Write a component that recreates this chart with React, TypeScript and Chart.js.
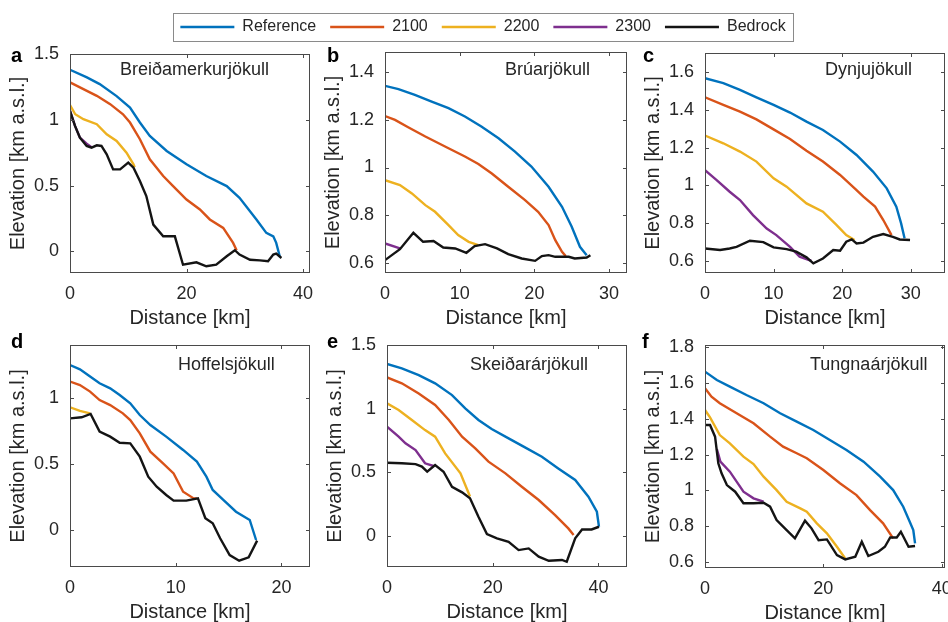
import React, { useEffect, useRef } from "react";
import { Chart, registerables } from "chart.js";

Chart.register(...registerables);

type Pt = [number, number];

const FONT = "'Liberation Sans', Arial, Helvetica, sans-serif";
const TEXT = "#262626";

// ---------- legend ----------
const SERIES_NAMES = ["Reference", "2100", "2200", "2300", "Bedrock"];
const SERIES_COLORS = ["#0072BD", "#D95319", "#EDB120", "#7E2F8E", "#141414"];

// ---------- a: Breiðamerkurjökull (distance km, elevation km a.s.l.) ----------
const breidRef: Pt[] = [[0, 1.38], [2.9, 1.322], [5.1, 1.271], [8, 1.18], [10.3, 1.093], [12, 0.979], [13.7, 0.877], [16.6, 0.763], [20, 0.661], [23.4, 0.572], [26.9, 0.496], [29.1, 0.407], [32, 0.242], [33.7, 0.14], [34.9, 0.114], [35.4, 0.064], [36, -0.038]];
const breid2100: Pt[] = [[0, 1.284], [2.9, 1.22], [4.6, 1.182], [6.9, 1.119], [9.1, 1.042], [10.3, 0.979], [12, 0.852], [13.7, 0.699], [16, 0.572], [17.7, 0.496], [20, 0.394], [22.3, 0.318], [24, 0.242], [26.3, 0.178], [28, 0.064], [28.6, 0.008]];
const breid2200: Pt[] = [[0, 1.111], [0.9, 1.042], [2.3, 1.004], [4.6, 0.966], [6.3, 0.89], [8, 0.839], [9.7, 0.75], [10.9, 0.661], [11.1, 0.64]];
const breid2300: Pt[] = [[0, 1.068], [0.86, 0.953], [1.7, 0.864], [2.86, 0.818], [3.7, 0.792]];
const breidBed: Pt[] = [[0, 1.068], [0.86, 0.953], [1.7, 0.864], [2.86, 0.801], [3.7, 0.788], [4.6, 0.806], [5.4, 0.801], [6.3, 0.737], [7.4, 0.623], [8.6, 0.623], [10, 0.674], [10.9, 0.636], [12, 0.534], [13.1, 0.42], [14.3, 0.203], [16, 0.114], [18, 0.114], [19.4, -0.102], [21.7, -0.084], [23.4, -0.114], [25.1, -0.102], [26.9, -0.038], [28.3, 0.008], [29.1, -0.025], [30.9, -0.064], [32.6, -0.069], [34, -0.076], [34.9, -0.025], [35.4, -0.018], [36.3, -0.051]];
const breidXTicks = [0, 20, 40];
const breidYTicks = [0, 0.5, 1, 1.5];

// ---------- b: Brúarjökull ----------
const bruRef: Pt[] = [[0, 1.343], [1.8, 1.329], [4, 1.305], [6.25, 1.277], [8.5, 1.249], [10.7, 1.214], [12.9, 1.172], [15.2, 1.123], [17.4, 1.067], [19.6, 1.004], [21.9, 0.919], [23.7, 0.835], [25, 0.751], [26.1, 0.667], [27, 0.632]];
const bru2100: Pt[] = [[0, 1.216], [1.34, 1.2], [3.1, 1.169], [5.4, 1.13], [8.5, 1.081], [10.7, 1.046], [12.5, 1.015], [14.3, 0.975], [16.5, 0.919], [18.75, 0.863], [20.5, 0.814], [21.9, 0.758], [22.8, 0.695], [23.7, 0.646], [24.2, 0.628]];
const bru2200: Pt[] = [[0, 0.947], [2, 0.926], [3.6, 0.891], [5.4, 0.842], [6.7, 0.814], [8.5, 0.758], [9.8, 0.716], [11.2, 0.688], [12.5, 0.674]];
const bru2300: Pt[] = [[0, 0.681], [2, 0.66]];
const bruBed: Pt[] = [[0, 0.611], [2, 0.657], [3.8, 0.726], [5.1, 0.688], [6.5, 0.691], [7.8, 0.664], [9.4, 0.66], [10.9, 0.642], [12, 0.67], [13.4, 0.678], [15, 0.66], [16.5, 0.636], [18.3, 0.618], [20.1, 0.608], [21, 0.628], [21.9, 0.632], [22.8, 0.625], [24.6, 0.625], [25.4, 0.618], [27, 0.622], [27.5, 0.632]];
const bruXTicks = [0, 10, 20, 30];
const bruYTicks = [0.6, 0.8, 1, 1.2, 1.4];

// ---------- c: Dynjujökull ----------
const dynRef: Pt[] = [[0, 1.568], [2.67, 1.542], [5.1, 1.506], [7.5, 1.467], [10, 1.427], [12.4, 1.386], [14.8, 1.338], [17.2, 1.294], [19.7, 1.232], [22.1, 1.161], [24.5, 1.073], [26.5, 0.984], [27.9, 0.887], [28.6, 0.798], [29.1, 0.719]];
const dyn2100: Pt[] = [[0, 1.467], [2.67, 1.427], [5.1, 1.391], [7.5, 1.35], [10, 1.297], [12.4, 1.246], [14.8, 1.184], [17.2, 1.126], [19.7, 1.055], [22.1, 0.975], [23.1, 0.94], [24.8, 0.887], [26, 0.816], [27.2, 0.736]];
const dyn2200: Pt[] = [[0, 1.264], [2.67, 1.223], [5.1, 1.179], [7.5, 1.126], [10, 1.037], [11.9, 0.993], [14.8, 0.904], [17.2, 0.86], [19.2, 0.789], [20.6, 0.736], [21.8, 0.71]];
const dyn2300: Pt[] = [[0, 1.081], [1.7, 1.028], [3.6, 0.966], [5.1, 0.922], [7, 0.842], [9, 0.771], [10.4, 0.736], [12.4, 0.674], [13.8, 0.621], [15.5, 0.6]];
const dynBed: Pt[] = [[0, 0.665], [2.2, 0.657], [3.6, 0.665], [4.6, 0.674], [6.55, 0.706], [8.5, 0.699], [10, 0.671], [11.9, 0.662], [13.3, 0.648], [14.8, 0.618], [15.8, 0.586], [17.2, 0.612], [18.7, 0.657], [19.7, 0.653], [20.6, 0.701], [21.4, 0.713], [22.1, 0.692], [23.1, 0.696], [24.5, 0.727], [26, 0.742], [27.4, 0.727], [28.4, 0.713], [29.9, 0.71]];
const dynXTicks = [0, 10, 20, 30];
const dynYTicks = [0.6, 0.8, 1, 1.2, 1.4, 1.6];

// ---------- d: Hoffelsjökull ----------
const hofRef: Pt[] = [[0, 1.253], [0.94, 1.22], [1.9, 1.165], [2.8, 1.114], [3.8, 1.076], [4.7, 1.025], [5.7, 0.962], [6.6, 0.873], [7.6, 0.797], [9.1, 0.709], [10.7, 0.608], [12, 0.519], [12.9, 0.405], [13.5, 0.304], [14.5, 0.228], [15.7, 0.139], [17, 0.076], [17.6, -0.076]];
const hof2100: Pt[] = [[0, 1.127], [0.94, 1.101], [1.9, 1.051], [2.8, 0.987], [3.8, 0.949], [5, 0.886], [5.7, 0.835], [6.6, 0.734], [7.6, 0.595], [8.8, 0.506], [9.8, 0.43], [10.7, 0.291], [11.7, 0.24], [12, 0.24]];
const hof2200: Pt[] = [[0, 0.932], [0.94, 0.904], [1.9, 0.886]];
const hof2300: Pt[] = [];
const hofBed: Pt[] = [[0, 0.848], [1.1, 0.856], [1.95, 0.881], [2.8, 0.747], [3.8, 0.709], [4.7, 0.663], [5.7, 0.658], [6.6, 0.557], [7.4, 0.405], [8.2, 0.329], [9.1, 0.266], [9.8, 0.223], [11, 0.223], [12.1, 0.24], [12.8, 0.089], [13.5, 0.051], [14.2, -0.063], [15.1, -0.19], [16, -0.233], [16.9, -0.208], [17.7, -0.081]];
const hofXTicks = [0, 10, 20];
const hofYTicks = [0, 0.5, 1];

// ---------- e: Skeiðarárjökull ----------
const skeRef: Pt[] = [[0, 1.351], [2.8, 1.317], [6, 1.264], [9.1, 1.199], [12.3, 1.107], [14.8, 1.003], [17.3, 0.911], [19.8, 0.84], [23, 0.767], [26.1, 0.696], [29.3, 0.623], [32.4, 0.531], [35.6, 0.44], [38.1, 0.309], [39.7, 0.191], [40.1, 0.073]];
const ske2100: Pt[] = [[0, 1.246], [2.8, 1.199], [6, 1.12], [9.1, 1.029], [11.7, 0.911], [14.2, 0.78], [16.7, 0.688], [19.2, 0.584], [22.4, 0.492], [25.5, 0.387], [28.7, 0.283], [31.8, 0.165], [34.3, 0.06], [35.3, 0.008]];
const ske2200: Pt[] = [[0, 1.042], [2.2, 0.99], [4.7, 0.911], [7.2, 0.832], [9.1, 0.78], [11, 0.649], [13.9, 0.492], [15.7, 0.31]];
const ske2300: Pt[] = [[0, 0.859], [2.2, 0.78], [3.5, 0.728], [5.4, 0.675], [7.2, 0.571], [8.8, 0.55]];
const skeBed: Pt[] = [[0, 0.576], [2.8, 0.571], [5.4, 0.565], [6.6, 0.545], [7.6, 0.505], [9.1, 0.558], [10.7, 0.505], [12.3, 0.387], [14.2, 0.343], [15.7, 0.296], [17.3, 0.152], [18.9, 0.016], [20.8, -0.018], [23, -0.045], [24.9, -0.11], [26.8, -0.097], [28.7, -0.162], [30.6, -0.194], [33.1, -0.188], [34, -0.202], [35.6, -0.018], [36.9, 0.052], [38.7, 0.052], [40.1, 0.073]];
const skeXTicks = [0, 20, 40];
const skeYTicks = [0, 0.5, 1, 1.5];

// ---------- f: Tungnaárjökull ----------
const tunRef: Pt[] = [[0, 1.664], [2, 1.617], [4.2, 1.58], [7, 1.533], [9.9, 1.487], [12.7, 1.431], [15.5, 1.384], [18.3, 1.337], [21.1, 1.281], [23.9, 1.225], [26.8, 1.16], [29.6, 1.076], [31.8, 1.001], [33.5, 0.908], [34.6, 0.824], [35.2, 0.777], [35.5, 0.703]];
const tun2100: Pt[] = [[0, 1.571], [1.1, 1.524], [2.5, 1.487], [5.35, 1.431], [8.2, 1.375], [11, 1.3], [13.2, 1.244], [15.5, 1.207], [17.2, 1.179], [20, 1.113], [22.8, 1.039], [25.6, 0.973], [27.9, 0.889], [30.1, 0.815], [31.8, 0.731]];
const tun2200: Pt[] = [[0, 1.449], [0.85, 1.408], [2.5, 1.309], [4.2, 1.263], [6.5, 1.188], [8.2, 1.147], [9.9, 1.076], [12.1, 1.001], [13.8, 0.936], [16.1, 0.899], [17.2, 0.88], [18.9, 0.815], [20.6, 0.759], [22.3, 0.684], [23.7, 0.618]];
const tun2300: Pt[] = [[2, 1.23], [2.6, 1.16], [4.2, 1.104], [6.5, 0.992], [8.2, 0.955], [9.9, 0.936]];
const tunBed: Pt[] = [[0, 1.365], [0.85, 1.365], [1.7, 1.3], [2.25, 1.151], [2.8, 1.095], [3.7, 1.029], [5.1, 0.992], [6.5, 0.927], [8.2, 0.927], [9.9, 0.93], [11, 0.908], [12.1, 0.833], [13.5, 0.787], [15.2, 0.731], [16.9, 0.83], [18, 0.787], [19.2, 0.721], [20.6, 0.725], [22.3, 0.637], [23.7, 0.613], [25.4, 0.628], [26.5, 0.712], [27.6, 0.632], [29.3, 0.656], [30.4, 0.684], [31.3, 0.736], [32.4, 0.736], [33.1, 0.768], [34.4, 0.684], [35.5, 0.688]];
const tunXTicks = [0, 20, 40];
const tunYTicks = [0.6, 0.8, 1, 1.2, 1.4, 1.6, 1.8];

// ---------- layout (page pixels) ----------
const AXIS_W = 70;
const AXIS_H = 60;
const PAD_T = 22;
const PAD_R = 25;
const LEGEND_LEFT = 123;
const LEGEND_TOP = 5;
const LEGEND_W = 720;
const LEGEND_H = 100;
const LINE_W = 2.4;

interface Panel {
  letter: string;
  name: string;
  series: Pt[][];
  xMax: number;
  yMin: number;
  yMax: number;
  xTicks: number[];
  yTicks: number[];
  box: { l: number; t: number; w: number; h: number };
  letterPos: [number, number];
  namePos: [number, number];
}

const PANELS: Panel[] = [
  { letter: "a", name: "Breiðamerkurjökull", series: [breidRef, breid2100, breid2200, breid2300, breidBed], xMax: 41.2, yMin: -0.165, yMax: 1.5, xTicks: breidXTicks, yTicks: breidYTicks, box: { l: 70, t: 54, w: 240, h: 219 }, letterPos: [11, 62], namePos: [120, 75] },
  { letter: "b", name: "Brúarjökull", series: [bruRef, bru2100, bru2200, bru2300, bruBed], xMax: 32.4, yMin: 0.557, yMax: 1.485, xTicks: bruXTicks, yTicks: bruYTicks, box: { l: 385, t: 52, w: 242, h: 221 }, letterPos: [327, 62], namePos: [505, 75] },
  { letter: "c", name: "Dynjujökull", series: [dynRef, dyn2100, dyn2200, dyn2300, dynBed], xMax: 35, yMin: 0.535, yMax: 1.702, xTicks: dynXTicks, yTicks: dynYTicks, box: { l: 705, t: 53, w: 240, h: 220 }, letterPos: [643, 62], namePos: [825, 75] },
  { letter: "d", name: "Hoffelsjökull", series: [hofRef, hof2100, hof2200, hof2300, hofBed], xMax: 22.7, yMin: -0.281, yMax: 1.405, xTicks: hofXTicks, yTicks: hofYTicks, box: { l: 70, t: 345, w: 240, h: 222 }, letterPos: [11, 348], namePos: [178, 370] },
  { letter: "e", name: "Skeiðarárjökull", series: [skeRef, ske2100, ske2200, ske2300, skeBed], xMax: 45.4, yMin: -0.243, yMax: 1.5, xTicks: skeXTicks, yTicks: skeYTicks, box: { l: 387, t: 345, w: 240, h: 222 }, letterPos: [327, 348], namePos: [470, 370] },
  { letter: "f", name: "Tungnaárjökull", series: [tunRef, tun2100, tun2200, tun2300, tunBed], xMax: 40.56, yMin: 0.565, yMax: 1.813, xTicks: tunXTicks, yTicks: tunYTicks, box: { l: 705, t: 345, w: 240, h: 223 }, letterPos: [642, 348], namePos: [810, 370] },
];

const fmt = (v: number) => String(Math.round(Number(v) * 100) / 100);

function panelConfig(p: Panel): any {
  const decor = {
    id: "decor" + p.letter,
    afterDatasetsDraw(chart: any) {
      const { ctx, chartArea } = chart;
      const { left, top, right, bottom } = chartArea;
      const xs = chart.scales.x;
      const ys = chart.scales.y;
      ctx.save();
      ctx.strokeStyle = "#4a4a4a";
      ctx.lineWidth = 1;
      ctx.strokeRect(left + 0.5, top + 0.5, right - left - 1, bottom - top - 1);
      const tl = 4;
      ctx.beginPath();
      p.xTicks.forEach((v) => {
        const px = Math.round(xs.getPixelForValue(v)) + 0.5;
        if (px < left || px > right) return;
        ctx.moveTo(px, bottom);
        ctx.lineTo(px, bottom - tl);
        ctx.moveTo(px, top);
        ctx.lineTo(px, top + tl);
      });
      p.yTicks.forEach((v) => {
        const py = Math.round(ys.getPixelForValue(v)) + 0.5;
        if (py < top || py > bottom) return;
        ctx.moveTo(left, py);
        ctx.lineTo(left + tl, py);
        ctx.moveTo(right, py);
        ctx.lineTo(right - tl, py);
      });
      ctx.stroke();
      ctx.fillStyle = "#000";
      ctx.textAlign = "left";
      ctx.textBaseline = "alphabetic";
      ctx.font = `bold 20px ${FONT}`;
      ctx.fillText(p.letter, left + (p.letterPos[0] - p.box.l), top + (p.letterPos[1] - p.box.t));
      ctx.fillStyle = TEXT;
      ctx.font = `18px ${FONT}`;
      ctx.fillText(p.name, left + (p.namePos[0] - p.box.l), top + (p.namePos[1] - p.box.t));
      ctx.restore();
    },
  };
  const orders = [5, 4, 3, 2, 1];
  return {
    type: "line",
    data: {
      datasets: p.series.map((s, i) => ({
        label: SERIES_NAMES[i],
        data: s.map(([x, y]) => ({ x, y })),
        borderColor: SERIES_COLORS[i],
        backgroundColor: SERIES_COLORS[i],
        borderWidth: LINE_W,
        pointRadius: 0,
        tension: 0,
        fill: false,
        order: orders[i],
      })),
    },
    options: {
      animation: false,
      responsive: false,
      maintainAspectRatio: false,
      layout: { padding: { left: 0, top: PAD_T, right: PAD_R, bottom: 0 } },
      plugins: { legend: { display: false }, tooltip: { enabled: false } },
      scales: {
        x: {
          type: "linear",
          min: 0,
          max: p.xMax,
          grid: { display: false, drawTicks: false },
          border: { display: false },
          afterBuildTicks: (s: any) => {
            s.ticks = p.xTicks.map((v) => ({ value: v }));
          },
          afterFit: (s: any) => {
            s.height = AXIS_H;
            s.paddingLeft = 0;
            s.paddingRight = 0;
          },
          ticks: {
            font: { family: FONT, size: 18 },
            color: TEXT,
            padding: 10,
            maxRotation: 0,
            autoSkip: false,
            callback: (v: any) => fmt(v),
          },
          title: {
            display: true,
            text: "Distance [km]",
            font: { family: FONT, size: 20 },
            color: TEXT,
            padding: { top: 0, bottom: 3 },
          },
        },
        y: {
          type: "linear",
          min: p.yMin,
          max: p.yMax,
          grid: { display: false, drawTicks: false },
          border: { display: false },
          afterBuildTicks: (s: any) => {
            s.ticks = p.yTicks.map((v) => ({ value: v }));
          },
          afterFit: (s: any) => {
            s.width = AXIS_W;
            s.paddingTop = 0;
            s.paddingBottom = 0;
          },
          ticks: {
            font: { family: FONT, size: 18 },
            color: TEXT,
            padding: 11,
            autoSkip: false,
            callback: (v: any) => fmt(v),
          },
          title: {
            display: true,
            text: "Elevation [km a.s.l.]",
            font: { family: FONT, size: 20 },
            color: TEXT,
            padding: { top: 6, bottom: 0 },
          },
        },
      },
    },
    plugins: [decor],
  };
}

function legendConfig(): any {
  const boxPlugin = {
    id: "legendBox",
    afterDraw(chart: any) {
      const { ctx } = chart;
      ctx.save();
      ctx.strokeStyle = "#8a8a8a";
      ctx.lineWidth = 1;
      // frame spans page x 173..793, y 13..41
      ctx.strokeRect(173 - LEGEND_LEFT + 0.5, 13 - LEGEND_TOP + 0.5, 620, 28);
      ctx.restore();
    },
  };
  return {
    type: "line",
    data: {
      datasets: SERIES_NAMES.map((n, i) => ({
        label: n,
        data: [],
        borderColor: SERIES_COLORS[i],
        backgroundColor: SERIES_COLORS[i],
        borderWidth: LINE_W,
        pointRadius: 0,
      })),
    },
    options: {
      animation: false,
      responsive: false,
      maintainAspectRatio: false,
      layout: { padding: 0 },
      scales: { x: { display: false }, y: { display: false } },
      plugins: {
        tooltip: { enabled: false },
        legend: {
          display: true,
          position: "top",
          labels: {
            usePointStyle: true,
            pointStyle: "line",
            pointStyleWidth: 54,
            boxHeight: 16,
            font: { family: FONT, size: 16 },
            color: TEXT,
            padding: 14,
          },
        },
      },
    },
    plugins: [boxPlugin],
  };
}

export default function App() {
  const legendRef = useRef<HTMLCanvasElement | null>(null);
  const panelRefs = useRef<(HTMLCanvasElement | null)[]>([]);

  useEffect(() => {
    const charts: Chart[] = [];
    if (legendRef.current) charts.push(new Chart(legendRef.current, legendConfig()));
    PANELS.forEach((p, i) => {
      const c = panelRefs.current[i];
      if (c) charts.push(new Chart(c, panelConfig(p)));
    });
    return () => charts.forEach((c) => c.destroy());
  }, []);

  return (
    <div style={{ position: "absolute", left: 0, top: 0, width: 948, height: 622, overflow: "hidden", background: "#fff" }}>
      <canvas
        ref={legendRef}
        width={LEGEND_W}
        height={LEGEND_H}
        style={{ position: "absolute", left: LEGEND_LEFT, top: LEGEND_TOP, width: LEGEND_W, height: LEGEND_H }}
      />
      {PANELS.map((p, i) => {
        const w = AXIS_W + p.box.w + PAD_R;
        const h = PAD_T + p.box.h + AXIS_H;
        return (
          <canvas
            key={p.letter}
            ref={(el) => {
              panelRefs.current[i] = el;
            }}
            width={w}
            height={h}
            style={{ position: "absolute", left: p.box.l - AXIS_W, top: p.box.t - PAD_T, width: w, height: h }}
          />
        );
      })}
    </div>
  );
}
